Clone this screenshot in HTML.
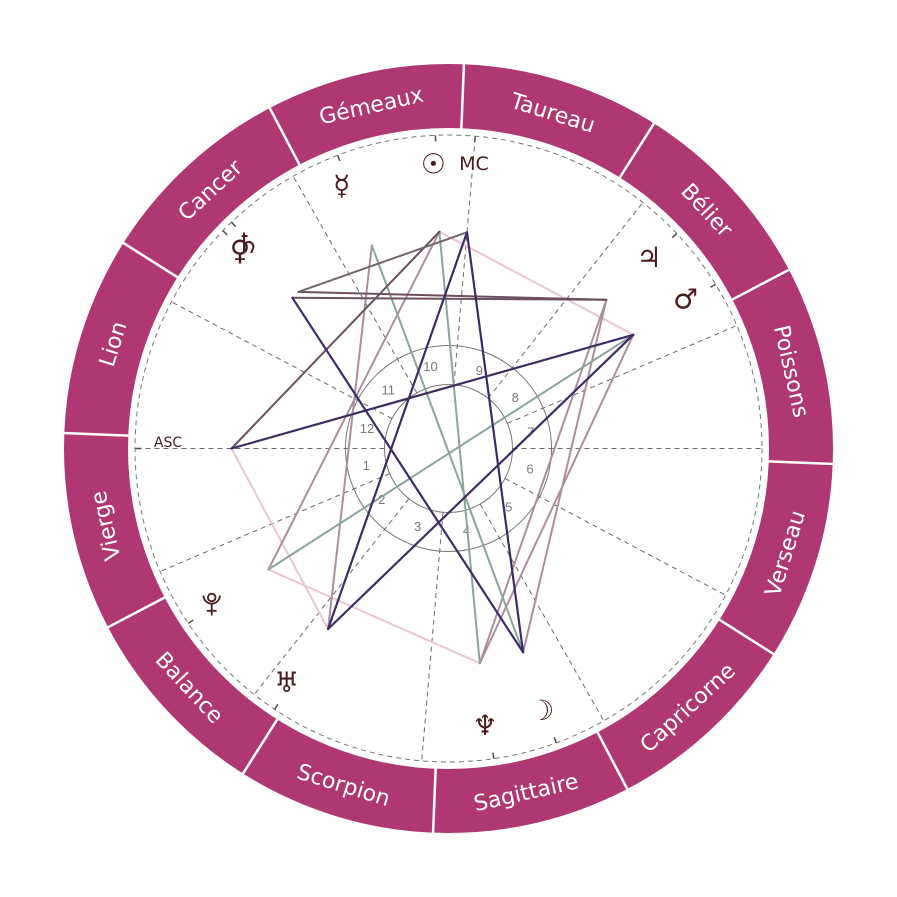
<!DOCTYPE html>
<html>
<head>
<meta charset="utf-8">
<style>
  html,body{margin:0;padding:0;background:#fff;}
  svg{display:block;}
  .sign{font-family:"DejaVu Sans","Liberation Sans",sans-serif;font-size:22px;fill:#fff;text-anchor:middle;}
  .hn{font-family:"Liberation Sans","DejaVu Sans",sans-serif;font-size:13px;fill:#7a7a7a;text-anchor:middle;}
  .pl{font-family:"DejaVu Sans","Liberation Sans",sans-serif;font-size:28px;fill:#4d1c1c;text-anchor:middle;}
  .cusp{stroke:#6a6a6a;stroke-width:1;stroke-dasharray:5 4;fill:none;}
  .tick{stroke:#555;stroke-width:1.6;}
</style>
</head>
<body>
<svg width="897" height="897" viewBox="0 0 897 897" xmlns="http://www.w3.org/2000/svg">
  <rect width="897" height="897" fill="#fff"/>

  <!-- zodiac ring -->
  <circle cx="448.5" cy="448.5" r="352.5" fill="none" stroke="#b03872" stroke-width="64"/>
  <g stroke="#fff" stroke-width="2.5">
    <line x1="768.5" y1="448.5" x2="834.5" y2="448.5" transform="rotate(-87.7 448.5 448.5)"/>
    <line x1="768.5" y1="448.5" x2="834.5" y2="448.5" transform="rotate(-117.7 448.5 448.5)"/>
    <line x1="768.5" y1="448.5" x2="834.5" y2="448.5" transform="rotate(-147.7 448.5 448.5)"/>
    <line x1="768.5" y1="448.5" x2="834.5" y2="448.5" transform="rotate(-177.7 448.5 448.5)"/>
    <line x1="768.5" y1="448.5" x2="834.5" y2="448.5" transform="rotate(-207.7 448.5 448.5)"/>
    <line x1="768.5" y1="448.5" x2="834.5" y2="448.5" transform="rotate(-237.7 448.5 448.5)"/>
    <line x1="768.5" y1="448.5" x2="834.5" y2="448.5" transform="rotate(-267.7 448.5 448.5)"/>
    <line x1="768.5" y1="448.5" x2="834.5" y2="448.5" transform="rotate(-297.7 448.5 448.5)"/>
    <line x1="768.5" y1="448.5" x2="834.5" y2="448.5" transform="rotate(-327.7 448.5 448.5)"/>
    <line x1="768.5" y1="448.5" x2="834.5" y2="448.5" transform="rotate(-357.7 448.5 448.5)"/>
    <line x1="768.5" y1="448.5" x2="834.5" y2="448.5" transform="rotate(-27.7 448.5 448.5)"/>
    <line x1="768.5" y1="448.5" x2="834.5" y2="448.5" transform="rotate(-57.7 448.5 448.5)"/>
  </g>

  <!-- sign labels -->
  <text class="sign" x="448.5" y="96.5" dy="0.36em" transform="rotate(77.3 448.5 448.5)">Poissons</text>
  <text class="sign" x="448.5" y="96.5" dy="0.36em" transform="rotate(47.3 448.5 448.5)">Bélier</text>
  <text class="sign" x="448.5" y="96.5" dy="0.36em" transform="rotate(17.3 448.5 448.5)">Taureau</text>
  <text class="sign" x="448.5" y="96.5" dy="0.36em" transform="rotate(-12.7 448.5 448.5)">Gémeaux</text>
  <text class="sign" x="448.5" y="96.5" dy="0.36em" transform="rotate(-42.7 448.5 448.5)">Cancer</text>
  <text class="sign" x="448.5" y="96.5" dy="0.36em" transform="rotate(-72.7 448.5 448.5)">Lion</text>
  <text class="sign" x="448.5" y="96.5" dy="0.36em" transform="rotate(-102.7 448.5 448.5)">Vierge</text>
  <text class="sign" x="448.5" y="800.5" dy="0.36em" transform="rotate(47.3 448.5 448.5)">Balance</text>
  <text class="sign" x="448.5" y="800.5" dy="0.36em" transform="rotate(17.3 448.5 448.5)">Scorpion</text>
  <text class="sign" x="448.5" y="800.5" dy="0.36em" transform="rotate(-12.7 448.5 448.5)">Sagittaire</text>
  <text class="sign" x="448.5" y="800.5" dy="0.36em" transform="rotate(-42.7 448.5 448.5)">Capricorne</text>
  <text class="sign" x="448.5" y="800.5" dy="0.36em" transform="rotate(-72.7 448.5 448.5)">Verseau</text>

  <!-- dashed outer circle -->
  <circle cx="448.5" cy="448.5" r="313.5" fill="none" stroke="#777" stroke-width="1" stroke-dasharray="5 4"/>

  <!-- house circles -->
  <circle cx="448.5" cy="448.5" r="103" fill="none" stroke="#777" stroke-width="1"/>
  <circle cx="448.5" cy="448.5" r="64" fill="none" stroke="#777" stroke-width="1"/>

  <!-- house cusps -->
  <g class="cusp">
    <line x1="512.5" y1="448.5" x2="762" y2="448.5" transform="rotate(-180 448.5 448.5)"/>
    <line x1="512.5" y1="448.5" x2="762" y2="448.5" transform="rotate(-203.1 448.5 448.5)"/>
    <line x1="512.5" y1="448.5" x2="762" y2="448.5" transform="rotate(-231.7 448.5 448.5)"/>
    <line x1="512.5" y1="448.5" x2="762" y2="448.5" transform="rotate(-265.1 448.5 448.5)"/>
    <line x1="512.5" y1="448.5" x2="762" y2="448.5" transform="rotate(-299.7 448.5 448.5)"/>
    <line x1="512.5" y1="448.5" x2="762" y2="448.5" transform="rotate(-332.1 448.5 448.5)"/>
    <line x1="512.5" y1="448.5" x2="762" y2="448.5"/>
    <line x1="512.5" y1="448.5" x2="762" y2="448.5" transform="rotate(-23.1 448.5 448.5)"/>
    <line x1="512.5" y1="448.5" x2="762" y2="448.5" transform="rotate(-51.7 448.5 448.5)"/>
    <line x1="512.5" y1="448.5" x2="762" y2="448.5" transform="rotate(-85.1 448.5 448.5)"/>
    <line x1="512.5" y1="448.5" x2="762" y2="448.5" transform="rotate(-119.7 448.5 448.5)"/>
    <line x1="512.5" y1="448.5" x2="762" y2="448.5" transform="rotate(-152.1 448.5 448.5)"/>
  </g>

  <!-- ticks -->
  <g class="tick">
    <line x1="756" y1="448.5" x2="762" y2="448.5" transform="rotate(-180 448.5 448.5)"/>
    <line x1="756" y1="448.5" x2="762" y2="448.5" transform="rotate(-85.1 448.5 448.5)"/>
    <line x1="756" y1="448.5" x2="762" y2="448.5" transform="rotate(-92.4 448.5 448.5)"/>
    <line x1="756" y1="448.5" x2="762" y2="448.5" transform="rotate(-110.7 448.5 448.5)"/>
    <line x1="756" y1="448.5" x2="762" y2="448.5" transform="rotate(-136 448.5 448.5)"/>
    <line x1="756" y1="448.5" x2="762" y2="448.5" transform="rotate(-133.8 448.5 448.5)"/>
    <line x1="756" y1="448.5" x2="762" y2="448.5" transform="rotate(-43.3 448.5 448.5)"/>
    <line x1="756" y1="448.5" x2="762" y2="448.5" transform="rotate(-31.6 448.5 448.5)"/>
    <line x1="756" y1="448.5" x2="762" y2="448.5" transform="rotate(-213.9 448.5 448.5)"/>
    <line x1="756" y1="448.5" x2="762" y2="448.5" transform="rotate(-236.3 448.5 448.5)"/>
    <line x1="756" y1="448.5" x2="762" y2="448.5" transform="rotate(-278.3 448.5 448.5)"/>
    <line x1="756" y1="448.5" x2="762" y2="448.5" transform="rotate(-290.1 448.5 448.5)"/>
  </g>

  <!-- house numbers -->
  <g class="hn">
    <text x="366.2" y="465.3" dy="0.35em">1</text>
    <text x="381.8" y="499.5" dy="0.35em">2</text>
    <text x="417.6" y="526.6" dy="0.35em">3</text>
    <text x="466.5" y="530.5" dy="0.35em">4</text>
    <text x="508.8" y="507.0" dy="0.35em">5</text>
    <text x="530.0" y="468.8" dy="0.35em">6</text>
    <text x="530.8" y="431.7" dy="0.35em">7</text>
    <text x="515.2" y="397.5" dy="0.35em">8</text>
    <text x="479.4" y="370.4" dy="0.35em">9</text>
    <text x="430.5" y="366.5" dy="0.35em">10</text>
    <text x="388.2" y="390.0" dy="0.35em">11</text>
    <text x="367.0" y="428.2" dy="0.35em">12</text>
  </g>

  <!-- aspect lines -->
  <g stroke-width="2" stroke-linecap="round" fill="none">
    <!-- pink -->
    <line x1="231.5" y1="448.5" x2="328.1" y2="629.0" stroke="#ecc5d3"/>
    <line x1="439.4" y1="231.7" x2="633.3" y2="334.8" stroke="#ecc5d3"/>
    <line x1="268.4" y1="569.5" x2="479.8" y2="663.2" stroke="#ecc5d3"/>
    <!-- mauve -->
    <line x1="439.4" y1="231.7" x2="268.4" y2="569.5" stroke="#af8d9e"/>
    <line x1="371.8" y1="245.5" x2="328.1" y2="629.0" stroke="#af8d9e"/>
    <line x1="606.4" y1="299.7" x2="479.8" y2="663.2" stroke="#af8d9e"/>
    <line x1="606.4" y1="299.7" x2="523.1" y2="652.3" stroke="#af8d9e"/>
    <line x1="633.3" y1="334.8" x2="479.8" y2="663.2" stroke="#af8d9e"/>
    <!-- green -->
    <line x1="439.4" y1="231.7" x2="479.8" y2="663.2" stroke="#88a69b"/>
    <line x1="371.8" y1="245.5" x2="523.1" y2="652.3" stroke="#88a69b"/>
    <line x1="633.3" y1="334.8" x2="268.4" y2="569.5" stroke="#88a69b"/>
    <!-- brown -->
    <line x1="231.5" y1="448.5" x2="439.4" y2="231.7" stroke="#6c5060"/>
    <line x1="292.4" y1="297.8" x2="606.4" y2="299.7" stroke="#6c5060"/>
    <line x1="298.3" y1="291.9" x2="606.4" y2="299.7" stroke="#6c5060"/>
    <line x1="467.0" y1="232.3" x2="298.3" y2="291.9" stroke="#736570"/>
    <!-- navy -->
    <line x1="231.5" y1="448.5" x2="633.3" y2="334.8" stroke="#3e2c66" stroke-width="2.2"/>
    <line x1="467.0" y1="232.3" x2="328.1" y2="629.0" stroke="#3e2c66" stroke-width="2.2"/>
    <line x1="467.0" y1="232.3" x2="523.1" y2="652.3" stroke="#3e2c66" stroke-width="2.2"/>
    <line x1="292.4" y1="297.8" x2="523.1" y2="652.3" stroke="#3e2c66" stroke-width="2.2"/>
    <line x1="633.3" y1="334.8" x2="328.1" y2="629.0" stroke="#3e2c66" stroke-width="2.2"/>
  </g>

  <!-- labels -->
  <text x="168" y="447" font-family="DejaVu Sans, Liberation Sans, sans-serif" font-size="14" fill="#4a1a1a" text-anchor="middle">ASC</text>
  <text x="474" y="170" font-family="DejaVu Sans, Liberation Sans, sans-serif" font-size="19" fill="#4a1a1a" text-anchor="middle">MC</text>

  <!-- planet glyphs -->
  <text class="pl" x="433.3" y="163.3" dy="0.36em" font-size="32">☉</text>
  <text class="pl" x="341.7" y="185" dy="0.36em">☿</text>
  <text class="pl" x="248" y="243" dy="0.36em" font-size="24">♄</text>
  <text class="pl" x="240" y="250" dy="0.36em">♀</text>
  <text class="pl" x="649" y="256.7" dy="0.36em">♃</text>
  <text class="pl" x="685.7" y="298.3" dy="0.36em">♂</text>
  <text class="pl" x="286.7" y="681.7" dy="0.36em">♅</text>
  <text class="pl" x="485" y="725" dy="0.36em">♆</text>
  <text class="pl" x="541.7" y="710" dy="0.36em">☽</text>
  <!-- Pluto (orb + bident form) -->
  <g stroke="#4d1c1c" stroke-width="1.8" fill="none">
    <circle cx="211.7" cy="597.5" r="3.8"/>
    <path d="M203.5,595.5 A8.2,8.2 0 0 0 219.9,595.5"/>
    <line x1="211.7" y1="603.7" x2="211.7" y2="615.5"/>
    <line x1="206.8" y1="610.8" x2="216.6" y2="610.8"/>
  </g>
</svg>
</body>
</html>
